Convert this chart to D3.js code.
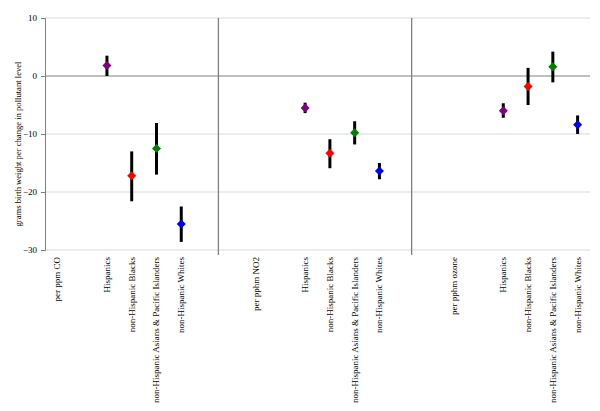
<!DOCTYPE html>
<html><head><meta charset="utf-8">
<script src="https://cdn.jsdelivr.net/npm/d3@7"></script>
<style>body{margin:0;background:#fff;} text{font-family:"Liberation Serif","Times New Roman",serif;}</style>
</head><body>
<svg id="c" width="600" height="411"></svg>
<script>
// slot labels along the x axis (22 slots, blanks are empty)
const slotLabels = ["per ppm CO","","Hispanics","non-Hispanic Blacks","non-Hispanic Asians & Pacific Islanders","non-Hispanic Whites","","",
  "per pphm NO2","","Hispanics","non-Hispanic Blacks","non-Hispanic Asians & Pacific Islanders","non-Hispanic Whites","","",
  "per pphm ozone","","Hispanics","non-Hispanic Blacks","non-Hispanic Asians & Pacific Islanders","non-Hispanic Whites"];
const groups = ["Hispanics","non-Hispanic Blacks","non-Hispanic Asians & Pacific Islanders","non-Hispanic Whites"];
const groupColors = ["#800080","#ff0000","#008000","#0000ff"];
const pollutantSlots = [2, 10, 18]; // first group slot for CO, NO2, ozone
const estCO  = [1.8, -17.2, -12.5, -25.5];
const loCO   = [0.0, -21.6, -17.0, -28.6];
const hiCO   = [3.5, -13.0,  -8.1, -22.5];
const estNO2 = [-5.5, -13.3, -9.8, -16.4];
const loNO2  = [-6.4, -15.9, -11.8, -17.8];
const hiNO2  = [-4.6, -10.9, -7.8, -15.0];
const estO3  = [-6.0, -1.8, 1.6, -8.4];
const loO3   = [-7.2, -5.0, -1.1, -10.0];
const hiO3   = [-4.7, 1.4, 4.2, -6.8];
const yTicks = [10, 0, -10, -20, -30];
const separators = [7, 14.8]; // slot boundaries
const yTitle = "grams birth weight per change in pollutant level";

const svg = d3.select("#c");
const L = 45, R = 590, T = 18, B = 250;
const x = d3.scaleBand().domain(d3.range(slotLabels.length)).range([L, R]).paddingInner(0).paddingOuter(0);
const xs = d3.scaleLinear().domain([0, slotLabels.length]).range([L, R]);
const y = d3.scaleLinear().domain([-30, 10]).range([B, T]);
const cx = i => x(i) + x.bandwidth() / 2;

// gridlines
svg.append("g").selectAll("line").data(yTicks.filter(v => v !== 0)).join("line")
  .attr("x1", L).attr("x2", R).attr("y1", d => y(d)).attr("y2", d => y(d))
  .attr("stroke", "#d9d9d9").attr("stroke-width", 1);
svg.append("line").attr("x1", L).attr("x2", R).attr("y1", y(0)).attr("y2", y(0))
  .attr("stroke", "#808080").attr("stroke-width", 1);

// separators
svg.append("g").selectAll("line").data(separators).join("line")
  .attr("x1", d => xs(d)).attr("x2", d => xs(d)).attr("y1", T).attr("y2", B + 5)
  .attr("stroke", "#808080").attr("stroke-width", 1.3);

// y axis
const ya = svg.append("g").attr("transform", `translate(${L},0)`)
  .call(d3.axisLeft(y).tickValues(yTicks).tickSize(4).tickPadding(4).tickFormat(d3.format("d")));
ya.select(".domain").attr("stroke", "#808080");
ya.selectAll(".tick line").attr("stroke", "#808080");
ya.selectAll(".tick text").attr("font-size", 9).attr("fill", "#000")
  .attr("font-family", "'Liberation Serif','Times New Roman',serif");

svg.append("text").attr("transform", `translate(21,${(T + B) / 2 + 10}) rotate(-90)`)
  .attr("text-anchor", "middle").attr("font-size", 8.6).text(yTitle);

// x labels
svg.append("g").selectAll("text").data(slotLabels.map((t, i) => ({t, i})).filter(d => d.t)).join("text")
  .attr("transform", d => `translate(${cx(d.i) + 3},${B + 7}) rotate(-90)`)
  .attr("text-anchor", "end").attr("font-size", 9).text(d => d.t);

// error bars and diamonds
const series = [[estCO, loCO, hiCO], [estNO2, loNO2, hiNO2], [estO3, loO3, hiO3]];
const pts = [];
series.forEach((s, p) => s[0].forEach((v, g) => pts.push({
  slot: pollutantSlots[p] + g, est: v, lo: s[1][g], hi: s[2][g], color: groupColors[g]
})));
svg.append("g").selectAll("line").data(pts).join("line")
  .attr("x1", d => cx(d.slot)).attr("x2", d => cx(d.slot))
  .attr("y1", d => y(d.lo)).attr("y2", d => y(d.hi))
  .attr("stroke", "#000").attr("stroke-width", 3);
svg.append("g").selectAll("path").data(pts).join("path")
  .attr("transform", d => `translate(${cx(d.slot)},${y(d.est)})`)
  .attr("d", "M0,-4.5L4.5,0L0,4.5L-4.5,0Z").attr("fill", d => d.color);
</script>
</body></html>
